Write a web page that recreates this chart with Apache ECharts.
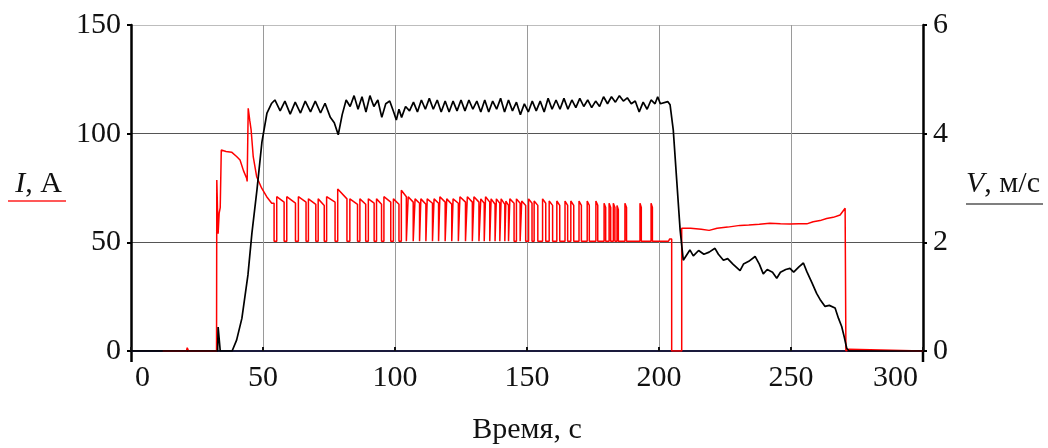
<!DOCTYPE html>
<html><head><meta charset="utf-8">
<script src="https://cdn.jsdelivr.net/npm/echarts@6/dist/echarts.min.js"></script>
<style>html,body{margin:0;padding:0;background:#fff}#c{width:1048px;height:448px}</style>
</head><body><div id="c"></div>
<script>
// ---- data ----
const xTicks = [0, 50, 100, 150, 200, 250, 300];
const currentTicks = [0, 50, 100, 150];
const speedTicks = [0, 2, 4, 6];

// current I, A : start-up part [time s, current A]
const currentPre = [[12,0],[21,0],[21.3,1.5],[21.8,0],[32.4,0],[32.5,78.7],[32.9,78.7],[33.0,54],[33.4,63.5],[33.8,66],[34.2,92.5],[36,91.8],[38.1,91.5],[40,89.5],[41.3,87.9],[42.6,83],[43.8,79.5],[44.0,78],[44.4,111.7],[45.0,106],[45.5,101.7],[46.3,89.4],[47.6,80.2],[49.5,74.9],[51.4,71],[53.3,68],[54.2,68],[54.2,50.5]];
// current pulses during the steady part
const pulseUp   = [55.2,59.0,63.4,67.2,70.9,74.1,78.3,82.9,86.7,89.9,93.0,95.8,99.4,102.4,105.0,107.6,109.8,112.2,114.8,117.0,119.6,122.0,124.6,127.4,129.9,132.5,134.3,136.4,138.4,140.2,142.0,143.5,146.0,148.0,150.6,152.7,155.9,158.4,161.3,164.4,166.6,169.7,172.8,176.1,179.2,181.1,182.7,184.1,187.1,192.8,197.0];
const pulseDown = [58.0,62.3,66.3,70.0,73.2,77.3,81.8,85.8,88.9,92.1,94.9,98.4,101.5,104.3,106.9,109.3,111.7,114.2,116.5,119.0,121.5,124.0,126.7,129.3,131.8,133.8,135.9,137.9,139.7,141.6,143.0,145.1,147.4,149.5,151.9,154.1,157.1,159.7,162.4,165.4,167.7,170.6,173.6,176.8,179.8,181.7,183.3,184.6,187.7,193.3,197.5];
const pulseTop  = [71,71,71,70,70,71,74.5,70,70,70,70,71,70,74,71,70,70,70,70,71,70,70,71,71,71,70,71,70,70,70,69,70,70,69,70,69,70,69,69,69,69,69,69,69,68,68,68,67,68,68,68];
const pulseEnd  = [68.5,68,68.5,67.5,67,68.5,70,67.5,67.5,68,67.5,68.5,67.5,71,68.5,68,67.5,68,68,68.5,67.5,68,68.5,68.5,68.5,68,68.5,67.5,68,67.5,67,68,68,67,68,67,68,67,67,67,67,67,67,67,66,66,66,65,66,66,66];
const pulseBase = 50.5;
// current after the steady part
const currentPost = [[203.6,50.5],[204.0,51.5],[204.8,51.5],[204.8,0],[208.6,0],[208.6,56.5],[212,56.5],[216,56],[219,55.5],[222,56.5],[226,57],[230.7,57.8],[234,58],[238,58.3],[242,58.8],[246,58.5],[249.6,58.4],[253,58.5],[256,58.5],[258.4,59.5],[261,60],[263.5,61],[266,61.5],[268.6,62.6],[270.5,65.7],[270.8,0],[272,0.8],[272.5,0],[300,0]];

// speed V, m/s [time s, speed m/s]
const speed = [[0,0],[32.8,0],[33.0,0.44],[33.6,0.44],[33.8,0],[38.3,0],[40,0.2],[42,0.6],[44.3,1.4],[45.8,2.17],[47.7,2.96],[49.6,3.85],[51.5,4.38],[53.3,4.56],
[54.5,4.62],[56.5,4.42],[58.3,4.6],[60.3,4.36],[62.2,4.58],[64.2,4.38],[66,4.6],[68,4.4],[69.8,4.6],[71.8,4.38],[73.5,4.56],[75.5,4.3],[77,4.2],[78.5,3.98],[80,4.35],[81.5,4.62],[83,4.5],[84.5,4.7],[86,4.45],[87.5,4.68],[89,4.4],[90.5,4.7],[92,4.5],[93.5,4.62],[95,4.3],[96.5,4.55],[98,4.6],[99.5,4.4],[100.5,4.25],[101.5,4.45],[102.5,4.3],[104,4.5],[105.5,4.42],[107,4.58],[108.5,4.4],[110,4.62],[111.5,4.45],[113,4.65],[114.5,4.45],[116,4.62],[117.5,4.4],[119,4.6],[120.5,4.4],[122,4.6],[123.5,4.42],[125,4.62],[126.5,4.42],[128,4.62],[129.5,4.45],[131,4.6],[132.5,4.4],[134,4.62],[135.5,4.4],[137,4.6],[138.5,4.45],[140,4.65],[141.5,4.4],[143,4.62],[144.5,4.42],[146,4.58],[147.5,4.35],[149,4.55],[150.5,4.4],[152,4.6],[153.5,4.42],[155,4.6],[156.5,4.4],[158,4.65],[159.5,4.45],[161,4.62],[162.5,4.45],[164,4.65],[165.5,4.45],[167,4.62],[168.5,4.48],[170,4.65],[171.5,4.5],[173,4.62],[174.5,4.48],[176,4.6],[177.5,4.5],[179,4.68],[180.5,4.55],[182,4.68],[183.5,4.58],[185,4.7],[186.5,4.6],[188,4.66],[189.5,4.55],[191,4.6],[192.5,4.4],[194,4.58],[195.5,4.45],[197,4.62],[198.5,4.55],[199.5,4.68],[200.5,4.55],[203.3,4.59],[204.2,4.53],[205.4,4.07],[206.7,3.15],[208,2.23],[209.2,1.67],[209.8,1.7],[211.7,1.86],[213,1.75],[215,1.85],[217,1.78],[219,1.82],[221.2,1.89],[222.5,1.78],[224.4,1.67],[226,1.7],[228,1.6],[230.7,1.48],[232,1.6],[234,1.65],[236.4,1.74],[238,1.6],[239.5,1.42],[241,1.5],[243,1.45],[244.6,1.34],[246,1.45],[248,1.5],[249.6,1.52],[251,1.45],[253,1.55],[254.7,1.62],[256,1.46],[258,1.25],[259.7,1.06],[261,0.95],[262.9,0.82],[264.5,0.84],[266.7,0.79],[268,0.6],[269.2,0.45],[270.2,0.25],[271.1,0.05],[272,0],[300,0]];

// ---- build the current series from the read values ----
const current = currentPre.slice();
for (let i = 0; i < pulseUp.length; i++) {
  current.push([pulseUp[i], pulseBase], [pulseUp[i], pulseTop[i]], [pulseDown[i], pulseEnd[i]], [pulseDown[i], pulseBase]);
}
currentPost.forEach(p => current.push(p));

const FONT = 'Liberation Serif';
const FS = 30;
const chart = echarts.init(document.getElementById('c'), null, {renderer: 'canvas'});
chart.setOption({
  animation: false,
  backgroundColor: '#fff',
  grid: {left: 131, right: 125, top: 25, bottom: 97, containLabel: false, outerBoundsMode: 'none'},
  xAxis: {
    type: 'value', min: xTicks[0], max: xTicks[xTicks.length - 1], interval: 50,
    name: 'Время, с', nameLocation: 'middle', nameGap: 64,
    nameTextStyle: {fontFamily: FONT, fontSize: FS, color: '#111'},
    axisLine: {onZero: false, lineStyle: {color: '#1a1a3c', width: 2}},
    axisTick: {inside: true, length: 4, lineStyle: {color: '#111', width: 2}},
    axisLabel: {fontFamily: FONT, fontSize: FS, color: '#111', margin: 12, alignMinLabel: 'left', alignMaxLabel: 'right',
      formatter: v => (v === xTicks[0] ? '{l|' + v + '}' : (v === xTicks[xTicks.length - 1] ? '{r|' + v + '}' : String(v))),
      rich: {
        l: {fontFamily: FONT, fontSize: FS, color: '#111', padding: [0, 0, 0, 4]},
        r: {fontFamily: FONT, fontSize: FS, color: '#111', padding: [0, 5, 0, 0]}
      }},
    splitLine: {show: true, lineStyle: {color: '#9a9a9a', width: 1}}
  },
  yAxis: [{
    type: 'value', min: currentTicks[0], max: currentTicks[currentTicks.length - 1], interval: 50,
    position: 'left',
    name: '{i|I}{n|, А}', nameLocation: 'middle', nameRotate: 0, nameGap: 69,
    nameTextStyle: {fontFamily: FONT, fontSize: FS, color: '#111', padding: [0, 0, 8, 0], rich: {
      i: {fontFamily: FONT, fontSize: FS, fontStyle: 'italic', color: '#111'},
      n: {fontFamily: FONT, fontSize: FS, color: '#111'}}},
    axisLine: {show: true, lineStyle: {color: '#000', width: 2.5}},
    axisTick: {show: true, length: 4, lineStyle: {color: '#000', width: 2}},
    axisLabel: {fontFamily: FONT, fontSize: FS, color: '#111', margin: 10},
    splitLine: {show: true, lineStyle: {color: ['#555', '#555', '#555', '#bdbdbd'], width: 1}}
  }, {
    type: 'value', min: speedTicks[0], max: speedTicks[speedTicks.length - 1], interval: 2,
    position: 'right',
    name: '{i|V}{n|, м/с}', nameLocation: 'middle', nameRotate: 0, nameGap: 43,
    nameTextStyle: {fontFamily: FONT, fontSize: FS, color: '#111', padding: [0, 0, 8, 0], rich: {
      i: {fontFamily: FONT, fontSize: FS, fontStyle: 'italic', color: '#111'},
      n: {fontFamily: FONT, fontSize: FS, color: '#111'}}},
    axisLine: {show: true, lineStyle: {color: '#000', width: 2.5}},
    axisTick: {show: true, length: 4, lineStyle: {color: '#000', width: 2}},
    axisLabel: {fontFamily: FONT, fontSize: FS, color: '#111', margin: 10},
    splitLine: {show: false}
  }],
  graphic: [
    {type: 'line', shape: {x1: 8, y1: 201, x2: 66, y2: 201}, style: {stroke: '#ff2020', lineWidth: 1.5}},
    {type: 'line', shape: {x1: 966, y1: 204, x2: 1043, y2: 204}, style: {stroke: '#555', lineWidth: 1.5}},
    {type: 'line', shape: {x1: 131.5, y1: 351, x2: 131.5, y2: 362}, style: {stroke: '#000', lineWidth: 2.5}},
    {type: 'line', shape: {x1: 923, y1: 351, x2: 923, y2: 362}, style: {stroke: '#000', lineWidth: 2.5}}
  ],
  series: [{
    name: 'I', type: 'line', yAxisIndex: 0, data: current, showSymbol: false,
    lineStyle: {color: '#ff0000', width: 1.5}, itemStyle: {color: '#ff0000'}, z: 3
  }, {
    name: 'V', type: 'line', yAxisIndex: 1, data: speed, showSymbol: false,
    lineStyle: {color: '#000', width: 1.7}, itemStyle: {color: '#000'}, z: 4
  }]
});
</script></body></html>
